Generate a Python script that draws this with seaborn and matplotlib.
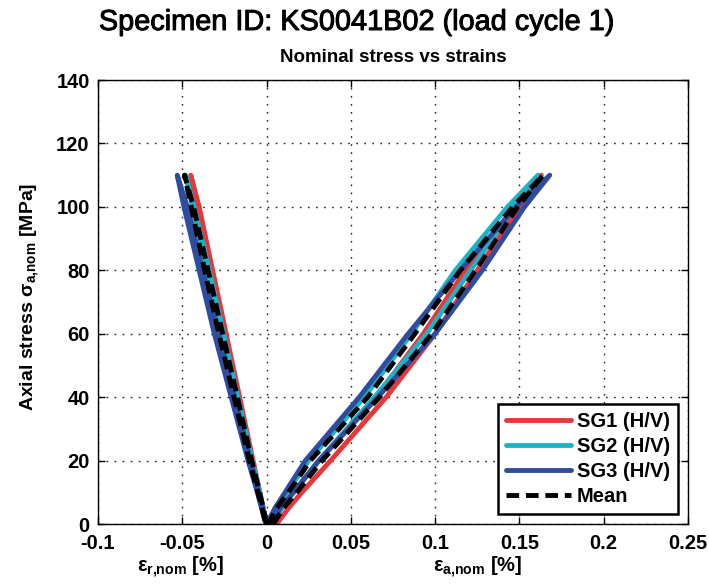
import numpy as np
import matplotlib
matplotlib.use("Agg")
import matplotlib.pyplot as plt
import matplotlib.patheffects as pe
import seaborn as sns
from matplotlib.lines import Line2D

sns.set_theme(style="white")
plt.rcParams['font.family'] = ['Liberation Sans', 'DejaVu Sans']
plt.rcParams['text.color'] = 'black'
plt.rcParams['axes.labelcolor'] = 'black'
plt.rcParams['mathtext.fontset'] = 'custom'
plt.rcParams['mathtext.rm'] = 'Liberation Sans:bold'
plt.rcParams['mathtext.it'] = 'Liberation Sans:bold'
plt.rcParams['mathtext.bf'] = 'Liberation Sans:bold'

# ---------------- data ----------------
stress_load = [0, 5, 10, 20, 40, 60, 80, 100, 110]
stress_unload = [110, 100, 80, 60, 40, 20, 10, 5, 0]

# axial strain [%]
sg1_ax_load = [0.006, 0.013, 0.021, 0.038, 0.071, 0.100, 0.125, 0.150, 0.163]
sg1_ax_unload = [0.163, 0.147, 0.118, 0.093, 0.065, 0.031, 0.016, 0.008, 0.003]
sg2_ax_load = [0.004, 0.009, 0.016, 0.031, 0.064, 0.095, 0.121, 0.147, 0.161]
sg2_ax_unload = [0.161, 0.143, 0.112, 0.086, 0.058, 0.025, 0.012, 0.005, 0.001]
sg3_ax_load = [0.003, 0.008, 0.016, 0.031, 0.066, 0.100, 0.128, 0.153, 0.168]
sg3_ax_unload = [0.168, 0.148, 0.115, 0.084, 0.055, 0.023, 0.011, 0.005, 0.000]
mean_ax_load = [0.004, 0.010, 0.018, 0.033, 0.067, 0.098, 0.124, 0.149, 0.164]
mean_ax_unload = [0.164, 0.146, 0.115, 0.088, 0.060, 0.026, 0.013, 0.006, 0.001]

# radial strain [%]
sg1_rad_load = [0, -0.002, -0.004, -0.008, -0.016, -0.024, -0.032, -0.040, -0.045]
sg1_rad_unload = [-0.045, -0.041, -0.034, -0.026, -0.018, -0.0095, -0.005, -0.0025, -0.0005]
sg2_rad_load = [0, -0.002, -0.004, -0.0085, -0.017, -0.0255, -0.034, -0.043, -0.048]
sg2_rad_unload = [-0.048, -0.044, -0.036, -0.028, -0.019, -0.010, -0.005, -0.0025, -0.0005]
sg3_rad_load = [0, -0.0022, -0.0045, -0.0095, -0.019, -0.0285, -0.038, -0.047, -0.053]
sg3_rad_unload = [-0.053, -0.049, -0.040, -0.031, -0.021, -0.011, -0.0055, -0.003, -0.0005]
mean_rad_load = [0, -0.002, -0.0042, -0.0088, -0.0173, -0.026, -0.0347, -0.0433, -0.0487]
mean_rad_unload = [-0.0487, -0.0447, -0.0367, -0.0283, -0.0193, -0.0102, -0.0052, -0.0027, -0.0005]

labels = ["SG1 (H/V)", "SG2 (H/V)", "SG3 (H/V)", "Mean"]
x_ticks = [-0.1, -0.05, 0, 0.05, 0.1, 0.15, 0.2, 0.25]
x_ticklabels = ["-0.1", "-0.05", "0", "0.05", "0.1", "0.15", "0.2", "0.25"]
y_ticks = [0, 20, 40, 60, 80, 100, 120, 140]

# ---------------- figure ----------------
W, H = 709, 585
fig = plt.figure(figsize=(W / 100, H / 100), dpi=100)
ax = fig.add_axes([98 / W, 61 / H, 590 / W, 444 / H])

colors = ["#E8363A", "#1AB3C8", "#2F4D9E"]
lw = 3.5
stress_loop = stress_load + stress_unload

series = [
    (sg1_ax_load, sg1_ax_unload, sg1_rad_load, sg1_rad_unload),
    (sg2_ax_load, sg2_ax_unload, sg2_rad_load, sg2_rad_unload),
    (sg3_ax_load, sg3_ax_unload, sg3_rad_load, sg3_rad_unload),
]
for (axl, axu, rl, ru), c in zip(series, colors):
    for xs in (rl + ru, axl + axu):
        sns.lineplot(x=xs, y=stress_loop, sort=False, estimator=None, ax=ax,
                     color=c, linewidth=lw, solid_capstyle='round',
                     solid_joinstyle='round')

dash = (0, (2.6, 1.4))
for xs in (mean_rad_load + mean_rad_unload, mean_ax_load + mean_ax_unload):
    sns.lineplot(x=xs, y=stress_loop, sort=False, estimator=None, ax=ax,
                 color="black", linewidth=lw, linestyle=dash,
                 dash_capstyle='butt')

ax.set_xlim(-0.1, 0.25)
ax.set_ylim(0, 140)
ax.set_xticks(x_ticks)
ax.set_xticklabels(x_ticklabels)
ax.set_yticks(y_ticks)
ax.set_xlabel("")
ax.set_ylabel("")

ax.grid(True, color="#222222", linestyle=(0, (1.2, 4.6)), linewidth=1.0)
ax.tick_params(direction="in", length=5, width=1, top=True, right=True,
               bottom=True, left=True, labelsize=14.5, colors="black")
ax.tick_params(axis="x", pad=7)
ax.tick_params(axis="y", pad=6)
for t in ax.get_xticklabels() + ax.get_yticklabels():
    t.set_fontweight("bold")
for s in ax.spines.values():
    s.set_color("black")
    s.set_linewidth(1.0)

handles = [Line2D([], [], color=c, lw=lw) for c in colors]
handles.append(Line2D([], [], color="black", lw=lw, linestyle=dash))
leg = ax.legend(handles, labels, loc="lower right",
                bbox_to_anchor=((678 - 98) / 590, (524 - 514) / 444),
                borderaxespad=0, fancybox=False, framealpha=1,
                edgecolor="black", handlelength=3.2, handletextpad=0.3,
                labelspacing=0.3, borderpad=0.4,
                prop={"weight": "bold", "size": 14.5})
leg.get_frame().set_linewidth(1.8)
for t in leg.get_texts():
    t.set_color("black")

fig.text(0.503, 1 - 22 / H, "Specimen ID: KS0041B02 (load cycle 1)",
         ha="center", va="center", fontsize=20.8, color="black",
         path_effects=[pe.withStroke(linewidth=0.7, foreground="black")])
fig.text(393 / W, 1 - 58 / H, "Nominal stress vs strains",
         ha="center", va="center", fontsize=13.5, fontweight="bold",
         color="black")

fig.text(30 / W, 1 - 297 / H, r"Axial stress $σ_{a{,}nom}$ [MPa]",
         rotation=90, ha="center", va="center", fontsize=14, fontweight="bold",
         color="black")
fig.text(181 / W, 1 - 572 / H, r"$ε_{r{,}nom}$ [%]",
         ha="center", va="baseline", fontsize=14.5, fontweight="bold",
         color="black")
fig.text(478 / W, 1 - 572 / H, r"$ε_{a{,}nom}$ [%]",
         ha="center", va="baseline", fontsize=14.5, fontweight="bold",
         color="black")

fig.savefig("out.png", dpi=100)
